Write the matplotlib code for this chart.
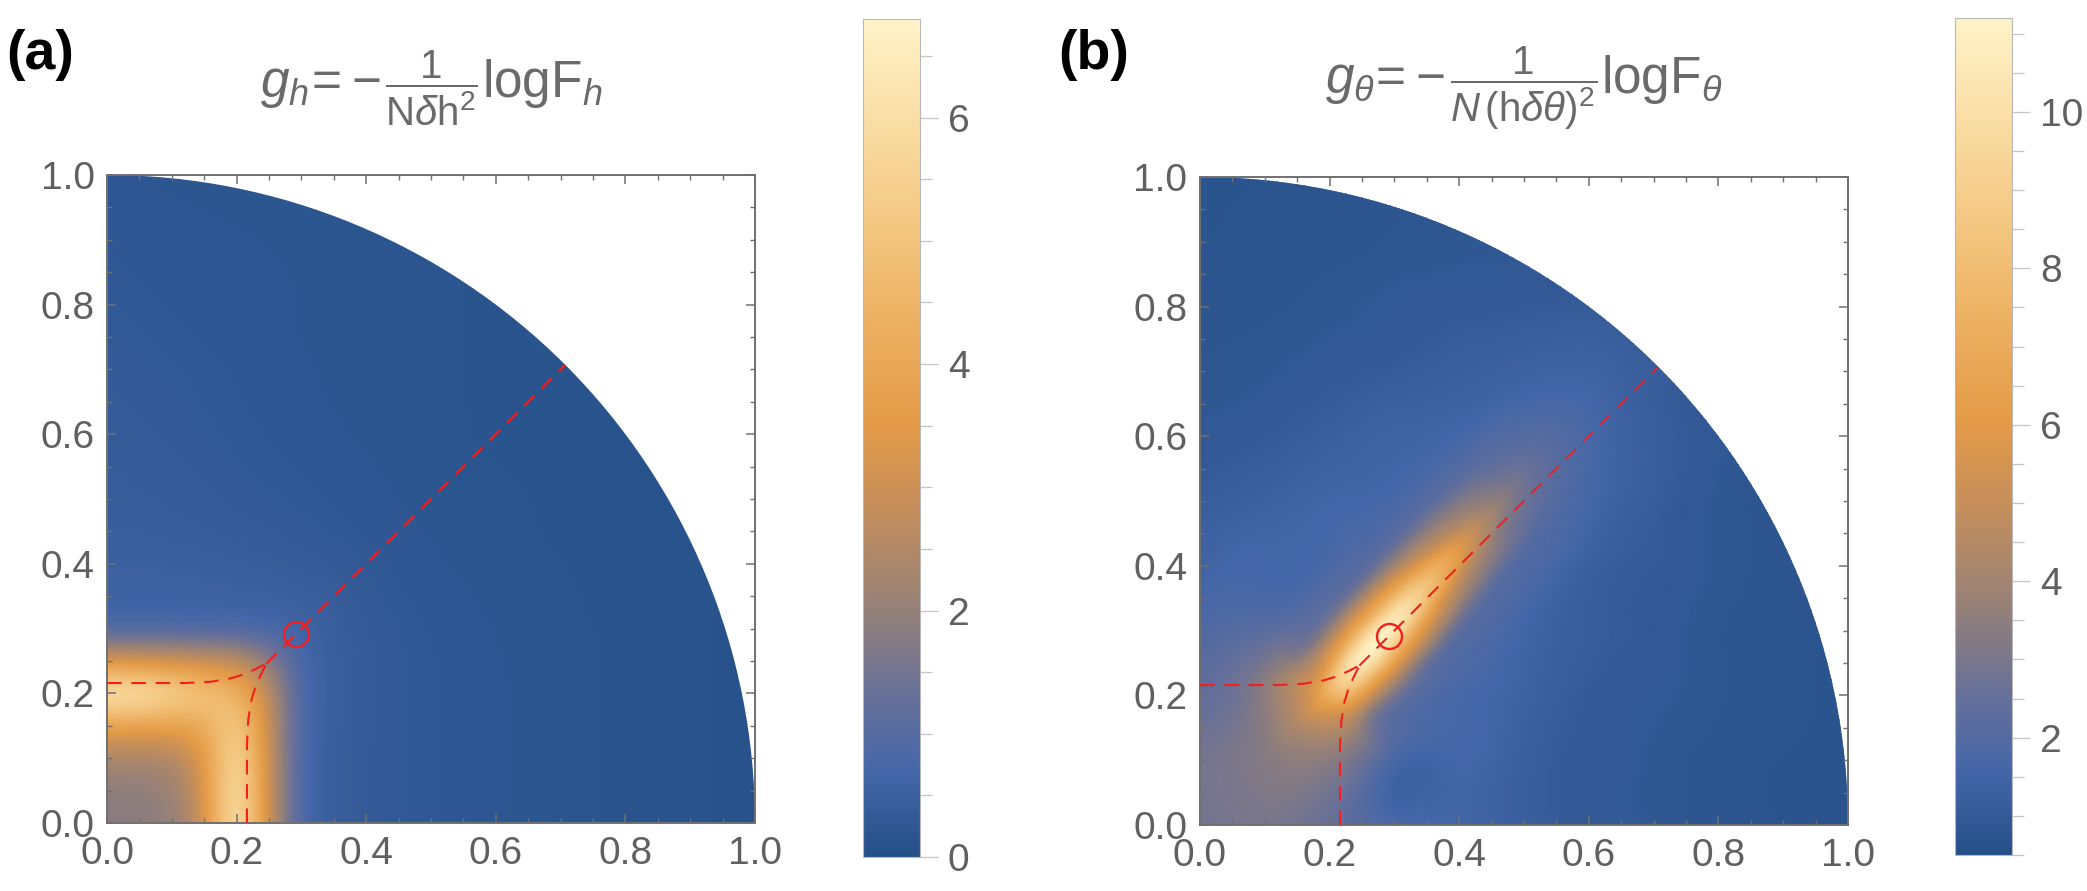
import numpy as np
import matplotlib
matplotlib.use("Agg")
import matplotlib.pyplot as plt
import matplotlib.tri as mtri
from matplotlib.colors import LinearSegmentedColormap, Normalize
from matplotlib.patches import Wedge
from matplotlib.ticker import MultipleLocator, FormatStrFormatter
from matplotlib.offsetbox import TextArea, HPacker, AnchoredOffsetbox
import matplotlib.cm as cm

plt.rcParams['font.family'] = ['Liberation Sans', 'DejaVu Sans']
plt.rcParams['mathtext.fontset'] = 'custom'
plt.rcParams['mathtext.rm'] = 'Liberation Sans'
plt.rcParams['mathtext.it'] = 'Liberation Sans:italic'
plt.rcParams['mathtext.bf'] = 'Liberation Sans:bold'
plt.rcParams['lines.scale_dashes'] = False

# ---------------- data ----------------
# colour scale (Mathematica-like density gradient)
cmap_pos = [0.00, 0.10, 0.19, 0.27, 0.32, 0.42, 0.52, 0.66, 0.82, 1.00]
cmap_col = ['#245088', '#4466a8', '#66709a', '#8a7c80', '#a08472',
            '#c68e5a', '#e49b47', '#eeb567', '#f7d393', '#fff3c8']

range_a = (0.0, 6.8)
range_b = (0.5, 11.2)
cbar_ticks_a = [0, 2, 4, 6]
cbar_ticks_b = [2, 4, 6, 8, 10]

# panel (a): g_h on a 0.05 grid (rows: y = 0..1, cols: x = 0..1)
grid_a_coords = [0.00, 0.05, 0.10, 0.15, 0.20, 0.25, 0.30, 0.35, 0.40, 0.45, 0.50,
                 0.55, 0.60, 0.65, 0.70, 0.75, 0.80, 0.85, 0.90, 0.95, 1.00]
g_h = [
    [1.80, 1.85, 1.95, 2.80, 6.80, 2.80, 0.65, 0.45, 0.35, 0.30, 0.27, 0.24, 0.22, 0.20, 0.18, 0.16, 0.15, 0.13, 0.12, 0.10, 0.10],
    [1.85, 1.90, 2.00, 2.90, 6.70, 2.80, 0.65, 0.45, 0.35, 0.30, 0.27, 0.24, 0.22, 0.20, 0.18, 0.16, 0.15, 0.13, 0.12, 0.10, 0.10],
    [2.30, 2.30, 2.40, 3.20, 6.30, 2.80, 0.66, 0.45, 0.35, 0.30, 0.27, 0.24, 0.22, 0.20, 0.18, 0.16, 0.15, 0.13, 0.12, 0.10, 0.10],
    [3.60, 3.60, 3.60, 4.00, 5.60, 2.80, 0.68, 0.46, 0.36, 0.30, 0.27, 0.24, 0.22, 0.20, 0.18, 0.16, 0.15, 0.13, 0.12, 0.10, 0.10],
    [6.80, 6.60, 6.00, 5.20, 4.60, 2.70, 0.70, 0.46, 0.36, 0.30, 0.27, 0.24, 0.22, 0.20, 0.18, 0.16, 0.15, 0.13, 0.12, 0.10, 0.10],
    [3.10, 3.10, 3.00, 2.90, 2.80, 1.90, 0.70, 0.46, 0.36, 0.30, 0.27, 0.24, 0.22, 0.20, 0.18, 0.16, 0.15, 0.13, 0.12, 0.10, 0.10],
    [0.70, 0.70, 0.70, 0.70, 0.70, 0.68, 0.62, 0.45, 0.35, 0.30, 0.26, 0.23, 0.21, 0.19, 0.17, 0.16, 0.15, 0.13, 0.12, 0.10, 0.10],
    [0.60, 0.60, 0.60, 0.58, 0.56, 0.53, 0.50, 0.40, 0.32, 0.27, 0.24, 0.22, 0.20, 0.18, 0.17, 0.15, 0.14, 0.13, 0.12, 0.10, 0.10],
    [0.52, 0.52, 0.50, 0.48, 0.45, 0.42, 0.38, 0.34, 0.29, 0.25, 0.22, 0.20, 0.19, 0.17, 0.16, 0.15, 0.14, 0.12, 0.11, 0.10, 0.10],
    [0.46, 0.45, 0.43, 0.41, 0.38, 0.35, 0.32, 0.29, 0.26, 0.23, 0.21, 0.19, 0.18, 0.16, 0.15, 0.14, 0.13, 0.12, 0.11, 0.10, 0.10],
    [0.42, 0.41, 0.39, 0.36, 0.33, 0.30, 0.28, 0.25, 0.23, 0.21, 0.19, 0.18, 0.17, 0.16, 0.15, 0.14, 0.13, 0.12, 0.11, 0.10, 0.10],
    [0.40, 0.38, 0.36, 0.33, 0.30, 0.28, 0.26, 0.24, 0.22, 0.20, 0.18, 0.17, 0.16, 0.15, 0.14, 0.13, 0.12, 0.11, 0.10, 0.10, 0.10],
    [0.38, 0.36, 0.34, 0.31, 0.28, 0.26, 0.24, 0.22, 0.20, 0.19, 0.17, 0.16, 0.15, 0.14, 0.13, 0.12, 0.11, 0.10, 0.10, 0.10, 0.10],
    [0.36, 0.34, 0.32, 0.29, 0.27, 0.25, 0.23, 0.21, 0.19, 0.18, 0.17, 0.16, 0.15, 0.14, 0.13, 0.12, 0.11, 0.10, 0.10, 0.10, 0.10],
    [0.34, 0.32, 0.30, 0.28, 0.26, 0.24, 0.22, 0.20, 0.19, 0.18, 0.17, 0.16, 0.15, 0.14, 0.13, 0.12, 0.11, 0.10, 0.10, 0.10, 0.10],
    [0.32, 0.30, 0.28, 0.26, 0.24, 0.22, 0.21, 0.20, 0.19, 0.18, 0.17, 0.16, 0.15, 0.14, 0.13, 0.12, 0.11, 0.10, 0.10, 0.10, 0.10],
    [0.30, 0.28, 0.26, 0.24, 0.23, 0.22, 0.21, 0.20, 0.19, 0.18, 0.17, 0.16, 0.15, 0.14, 0.13, 0.12, 0.11, 0.10, 0.10, 0.10, 0.10],
    [0.28, 0.26, 0.25, 0.24, 0.23, 0.22, 0.21, 0.20, 0.19, 0.18, 0.17, 0.16, 0.15, 0.14, 0.13, 0.12, 0.11, 0.10, 0.10, 0.10, 0.10],
    [0.26, 0.25, 0.24, 0.23, 0.22, 0.21, 0.20, 0.19, 0.18, 0.17, 0.16, 0.15, 0.14, 0.13, 0.12, 0.11, 0.10, 0.10, 0.10, 0.10, 0.10],
    [0.24, 0.23, 0.22, 0.21, 0.20, 0.20, 0.19, 0.18, 0.17, 0.16, 0.15, 0.14, 0.13, 0.12, 0.11, 0.10, 0.10, 0.10, 0.10, 0.10, 0.10],
    [0.22, 0.21, 0.20, 0.20, 0.19, 0.19, 0.18, 0.17, 0.16, 0.15, 0.14, 0.13, 0.12, 0.11, 0.10, 0.10, 0.10, 0.10, 0.10, 0.10, 0.10],
]

# panel (b): g_theta, background samples on a 0.1 grid (nan = covered by ridge samples)
grid_b_coords = [0.0, 0.1, 0.2, 0.3, 0.4, 0.5, 0.6, 0.7, 0.8, 0.9, 1.0]
nan = float('nan')
g_theta_bg = [
    [2.80, 3.00, 2.50, 1.80, 1.55, 1.25, 1.00, 0.90, 0.80, 0.75, 0.70],
    [2.90, 3.30, 3.40, nan,  1.60, 1.25, 1.00, 0.90, 0.80, 0.75, 0.70],
    [2.40, 3.50, nan,  nan,  nan,  1.40, 1.05, 0.95, 0.85, 0.78, 0.72],
    [1.90, nan,  nan,  nan,  nan,  1.55, 1.15, 1.00, 0.85, 0.78, 0.72],
    [1.45, 1.60, nan,  nan,  nan,  nan,  1.30, 1.05, 0.90, 0.80, 0.75],
    [1.15, 1.35, 1.55, nan,  nan,  nan,  nan,  1.15, 0.90, 0.80, 0.75],
    [0.95, 1.05, 1.25, 1.45, nan,  nan,  nan,  1.20, 0.95, 0.80, 0.75],
    [0.85, 0.90, 1.00, 1.10, 1.25, nan,  1.45, 1.15, 0.95, 0.80, 0.75],
    [0.80, 0.82, 0.88, 0.95, 1.00, 1.05, 1.10, 1.00, 0.90, 0.80, 0.75],
    [0.75, 0.78, 0.80, 0.85, 0.90, 0.90, 0.90, 0.85, 0.80, 0.75, 0.70],
    [0.72, 0.75, 0.75, 0.80, 0.80, 0.80, 0.80, 0.80, 0.75, 0.70, 0.70],
]
# bright ridge of panel (b): centre points along the ridge and samples across it
ridge_cx = [0.186, 0.217, 0.250, 0.283, 0.316, 0.348, 0.381, 0.414, 0.447, 0.480, 0.512, 0.578]
ridge_cy = [0.184, 0.217, 0.255, 0.293, 0.331, 0.368, 0.406, 0.444, 0.482, 0.519, 0.557, 0.633]
ridge_offsets = [-0.13, -0.10, -0.075, -0.05, -0.025, 0.0, 0.025, 0.05, 0.075, 0.10, 0.13]
ridge_normal = (-0.755, 0.656)
ridge_vals = [
    [2.00, 2.80, 3.50, 4.40, 5.30, 6.00, 5.40, 4.70, 3.90, 3.20, 2.60],
    [1.90, 2.20, 2.80, 4.60, 7.20, 8.80, 7.00, 4.80, 3.30, 2.70, 2.30],
    [1.80, 2.10, 3.00, 5.20, 8.40, 10.8, 8.50, 5.40, 3.20, 2.30, 1.90],
    [1.80, 2.10, 3.00, 5.30, 8.50, 11.0, 8.60, 5.50, 3.20, 2.20, 1.80],
    [1.80, 2.00, 2.90, 5.00, 7.80, 10.0, 8.00, 5.20, 3.00, 2.10, 1.80],
    [1.80, 2.00, 2.70, 4.40, 6.60, 8.40, 6.80, 4.50, 2.80, 2.00, 1.75],
    [1.75, 1.95, 2.50, 3.80, 5.40, 6.80, 5.50, 3.90, 2.60, 1.95, 1.70],
    [1.70, 1.90, 2.30, 3.30, 4.40, 5.30, 4.40, 3.40, 2.40, 1.90, 1.65],
    [1.65, 1.85, 2.15, 2.80, 3.40, 4.00, 3.50, 2.90, 2.20, 1.85, 1.60],
    [1.60, 1.80, 2.00, 2.40, 2.80, 3.10, 2.80, 2.40, 2.05, 1.75, 1.55],
    [1.50, 1.70, 1.85, 2.10, 2.35, 2.50, 2.35, 2.10, 1.90, 1.65, 1.45],
    [1.30, 1.40, 1.50, 1.60, 1.70, 1.75, 1.70, 1.60, 1.50, 1.40, 1.30],
]

# red dashed guide curves and the marked point (same in both panels)
branch_h_x = [0.0, 0.12, 0.16, 0.19, 0.21, 0.228, 0.246]
branch_h_y = [0.216, 0.216, 0.218, 0.223, 0.229, 0.237, 0.246]
branch_v_x = [0.216, 0.216, 0.218, 0.223, 0.229, 0.237, 0.246]
branch_v_y = [0.0, 0.12, 0.16, 0.19, 0.21, 0.228, 0.246]
diag_x = [0.246, 0.7071]
diag_y = [0.246, 0.7071]
mark_x = [0.291]
mark_y = [0.292]

title_a = [(r'$g_h\!=\!-$', 37), (r'$\dfrac{1}{\mathrm{N}\delta\mathrm{h}^{2}}$', 29),
           (r'$\mathrm{logF}_h$', 37)]
title_b = [(r'$g_\theta\!=\!-$', 37), (r'$\dfrac{1}{N\,(\mathrm{h}\delta\theta)^{2}}$', 29),
           (r'$\mathrm{logF}_\theta$', 37)]

# ---------------- figure ----------------
W, H = 2087, 891
fig = plt.figure(figsize=(W / 100, H / 100), dpi=100)


def px_axes(l, t, r, b):
    return fig.add_axes([l / W, 1 - b / H, (r - l) / W, (b - t) / H])


ax_a = px_axes(107, 175, 755, 823)
ax_b = px_axes(1200, 177, 1848, 825)
cax_a = px_axes(863, 19, 920, 857)
cax_b = px_axes(1955, 18, 2012, 855)

cmap = LinearSegmentedColormap.from_list('m10', list(zip(cmap_pos, cmap_col)))
norm_a = Normalize(*range_a)
norm_b = Normalize(*range_b)

# panel (a) density
ga = np.array(g_h)
step = grid_a_coords[1] - grid_a_coords[0]
im = ax_a.imshow(ga, origin='lower', cmap=cmap, norm=norm_a, interpolation='bicubic',
                 extent=(grid_a_coords[0] - step / 2, grid_a_coords[-1] + step / 2,
                         grid_a_coords[0] - step / 2, grid_a_coords[-1] + step / 2),
                 aspect='auto', zorder=1)
im.set_clip_path(Wedge((0, 0), 1.0, 0, 90, transform=ax_a.transData))

# panel (b) density
bx, by = np.meshgrid(grid_b_coords, grid_b_coords)
bv = np.array(g_theta_bg)
ok = ~np.isnan(bv)
rx = np.array(ridge_cx)[:, None] + np.array(ridge_offsets)[None, :] * ridge_normal[0]
ry = np.array(ridge_cy)[:, None] + np.array(ridge_offsets)[None, :] * ridge_normal[1]
px_all = np.concatenate([bx[ok], rx.ravel()])
py_all = np.concatenate([by[ok], ry.ravel()])
pv_all = np.concatenate([bv[ok], np.array(ridge_vals).ravel()])
tri = mtri.Triangulation(px_all, py_all)
interp = mtri.CubicTriInterpolator(tri, pv_all, kind='min_E')
refiner = mtri.UniformTriRefiner(tri)
tri_r, v_r = refiner.refine_field(pv_all, triinterpolator=interp, subdiv=4)
tp = ax_b.tripcolor(tri_r, v_r, shading='gouraud', cmap=cmap, norm=norm_b, zorder=1)
tp.set_clip_path(Wedge((0, 0), 1.0, 0, 90, transform=ax_b.transData))

red = '#f41e1e'
frame = '#707070'
for ax in (ax_a, ax_b):
    dash = (0, (10.5, 7))
    ax.plot(branch_h_x, branch_h_y, color=red, lw=1.5, ls=dash, zorder=3)
    ax.plot(branch_v_x, branch_v_y, color=red, lw=1.5, ls=dash, zorder=3)
    ax.plot(diag_x, diag_y, color=red, lw=1.5, ls=dash, zorder=3)
    ax.plot(mark_x, mark_y, ls='none', marker='o', ms=18, mfc='none', mec=red, mew=1.7, zorder=4)
    ax.set_xlim(0, 1)
    ax.set_ylim(0, 1)
    ax.set_xticks([0.0, 0.2, 0.4, 0.6, 0.8, 1.0])
    ax.set_yticks([0.0, 0.2, 0.4, 0.6, 0.8, 1.0])
    ax.xaxis.set_minor_locator(MultipleLocator(0.05))
    ax.yaxis.set_minor_locator(MultipleLocator(0.05))
    ax.xaxis.set_major_formatter(FormatStrFormatter('%.1f'))
    ax.yaxis.set_major_formatter(FormatStrFormatter('%.1f'))
    ax.tick_params(which='both', direction='in', top=True, right=True, color=frame,
                   labelcolor='#606060', labelsize=28)
    ax.tick_params(which='major', length=6.5, width=1.1)
    ax.tick_params(which='minor', length=3.6, width=1.0)
    ax.tick_params(axis='x', pad=9)
    ax.tick_params(axis='y', pad=9)
    for sp in ax.spines.values():
        sp.set_color(frame)
        sp.set_linewidth(1.4)

for cax, norm, ticks in ((cax_a, norm_a, cbar_ticks_a), (cax_b, norm_b, cbar_ticks_b)):
    cb = fig.colorbar(cm.ScalarMappable(norm=norm, cmap=cmap), cax=cax)
    cb.set_ticks(ticks)
    cb.ax.yaxis.set_minor_locator(MultipleLocator(0.5))
    cb.ax.tick_params(which='both', direction='out', color='#c4c4c4', labelcolor='#606060',
                      labelsize=28, right=True, left=False)
    cb.ax.tick_params(which='major', length=13, width=0.9, pad=7)
    cb.ax.tick_params(which='minor', length=8.5, width=0.9)
    cb.outline.set_edgecolor('#b8b8b8')
    cb.outline.set_linewidth(0.8)


def add_title(parts, x_px, y_px):
    kids = [TextArea(s, textprops=dict(fontsize=fs, color='#6a6a6a')) for s, fs in parts]
    pack = HPacker(children=kids, align='baseline', pad=0, sep=3)
    box = AnchoredOffsetbox(loc='center', child=pack, pad=0, borderpad=0, frameon=False,
                            bbox_to_anchor=(x_px / W, 1 - y_px / H),
                            bbox_transform=fig.transFigure)
    fig.add_artist(box)


add_title(title_a, 431, 88)
add_title(title_b, 1524, 88)
fig.text(6 / W, 1 - 55 / H, '(a)', ha='left', va='center', fontsize=40, fontweight='bold', color='black')
fig.text(1058 / W, 1 - 55 / H, '(b)', ha='left', va='center', fontsize=40, fontweight='bold', color='black')

fig.savefig('out.png', dpi=100, facecolor='white')
